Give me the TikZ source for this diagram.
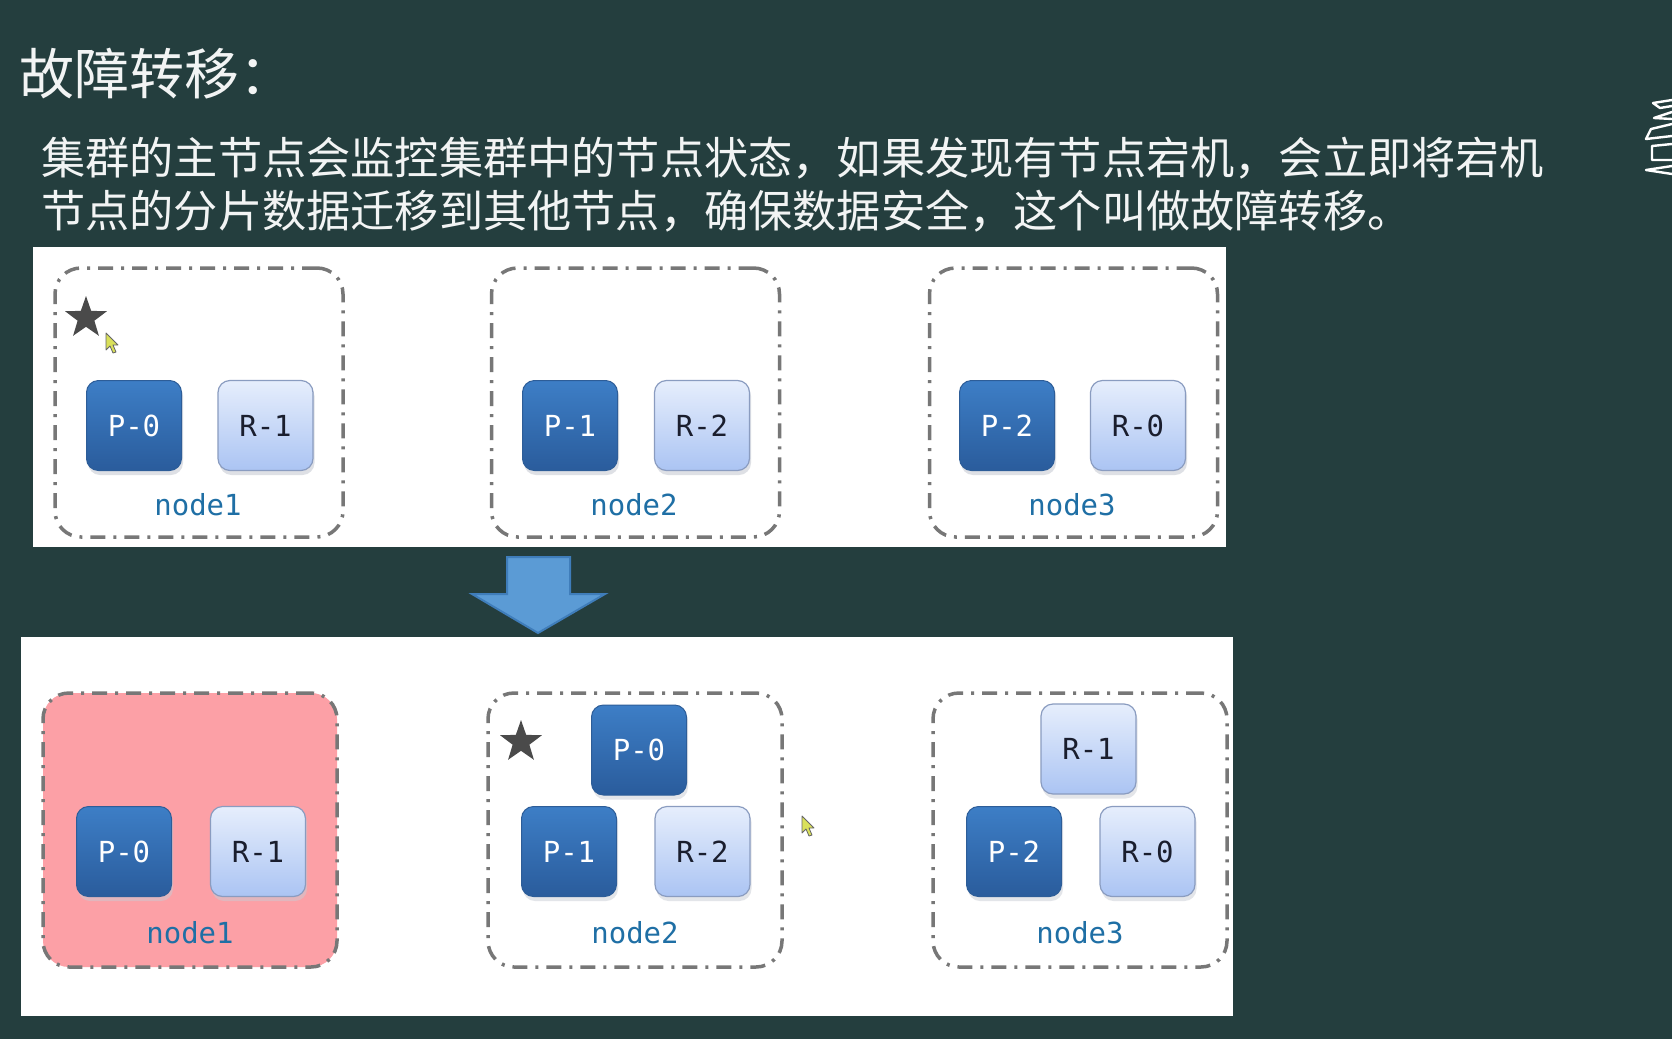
\documentclass[tikz,border=0pt]{standalone}
\usepackage{fontspec}
\newfontfamily\cjk{Noto Sans CJK SC}
\newfontfamily\mono{DejaVu Sans Mono}
\usetikzlibrary{shapes.geometric}
\definecolor{bg}{HTML}{243E3E}
\definecolor{txtwhite}{HTML}{F2F4F4}
\definecolor{boxgray}{HTML}{777777}
\definecolor{ptop}{HTML}{3D7EC6}
\definecolor{pbot}{HTML}{2A5C9C}
\definecolor{pedge}{HTML}{2D5D98}
\definecolor{rtop}{HTML}{E6EEFC}
\definecolor{rbot}{HTML}{ABC4F3}
\definecolor{redge}{HTML}{8A9CC0}
\definecolor{rtext}{HTML}{1A1E2E}
\definecolor{labblue}{HTML}{1F6FA5}
\definecolor{stargray}{HTML}{4A4A4A}
\definecolor{downpink}{HTML}{FCA0A6}
\definecolor{arrowfill}{HTML}{5B9BD5}
\definecolor{arrowedge}{HTML}{3F7DBA}
\definecolor{cursory}{HTML}{D9E05A}
\definecolor{shadowc}{HTML}{C8CCD4}
\begin{document}
\begin{tikzpicture}[x=0.5pt,y=-0.5pt,
  nodebox/.style={draw=boxgray, line width=1.75pt, dash pattern=on 7.5pt off 4pt on 1.5pt off 4pt, rounded corners=13pt, inner sep=0pt},
  topbox/.style={nodebox, minimum width=144pt, minimum height=134.5pt},
  botbox/.style={nodebox, minimum width=147pt, minimum height=137pt},
  shard/.style={rounded corners=6pt, minimum width=47.5pt, minimum height=45pt, inner sep=0pt, font=\mono\fontsize{14.5}{14.5}\selectfont},
  pshard/.style={shard, top color=ptop, bottom color=pbot, draw=pedge, line width=0.5pt, text=white},
  rshard/.style={shard, top color=rtop, bottom color=rbot, draw=redge, line width=0.6pt, text=rtext},
  lab/.style={font=\mono\fontsize{14.5}{14.5}\selectfont, text=labblue, inner sep=0pt},
  master/.style={star, star points=5, star point ratio=2.5, fill=stargray, minimum size=22pt, inner sep=0pt},
  cursor/.style={fill=cursory, draw=black!60, line width=0.4pt, line join=round}
]
% background
\fill[bg] (0,0) rectangle (1672,1039);
\useasboundingbox (0,0) rectangle (1672,1039);

% texts
\node[anchor=base west, inner sep=0pt, text=txtwhite, font=\cjk\fontsize{27.5}{30}\selectfont] (title) at (19,94) {故障转移：};
\node[anchor=base west, inner sep=0pt, text=txtwhite, font=\cjk\fontsize{22.1}{26}\selectfont] (line1) at (41,174) {集群的主节点会监控集群中的节点状态，如果发现有节点宕机，会立即将宕机};
\node[anchor=base west, inner sep=0pt, text=txtwhite, font=\cjk\fontsize{22.1}{26}\selectfont] (line2) at (41,227) {节点的分片数据迁移到其他节点，确保数据安全，这个叫做故障转移。};

% right-edge sketch glyph (partially cut off)
\draw[white, line width=1.2pt, line join=round] (1672,100) -- (1653,103) -- (1660,108) -- (1672,106);
\draw[white, line width=1.2pt, line join=round] (1672,112) -- (1654,118) -- (1672,119);
\draw[white, line width=1.2pt, line join=round] (1672,124) -- (1651,129) -- (1646,139) -- (1672,136);
\draw[white, line width=1.2pt, line join=round] (1672,144) -- (1652,146) -- (1652,160) -- (1672,160);
\draw[white, line width=1.2pt, line join=round] (1672,166) -- (1646,170) -- (1672,174);

% top panel
\fill[white] (33,247) rectangle (1226,547);
\node[topbox] (t1) at (199,402.5) {};
\node[topbox] (t2) at (635.5,402.5) {};
\node[topbox] (t3) at (1073.5,402.5) {};

% soft shadows under shards (top)
\foreach \cx in {134,265.5,570,702,1007,1138}
  \fill[shadowc, rounded corners=6pt, opacity=0.6] (\cx-46,384) rectangle (\cx+49,475);

\node[master] (tstar) at (86,318) {};
\node[pshard] (tp0) at (134,425.5) {P-0};
\node[rshard] (tr1) at (265.5,425.5) {R-1};
\node[lab] (tl1) at (198,505) {node1};

\node[pshard] (tp1) at (570,425.5) {P-1};
\node[rshard] (tr2) at (702,425.5) {R-2};
\node[lab] (tl2) at (634,505) {node2};

\node[pshard] (tp2) at (1007,425.5) {P-2};
\node[rshard] (tr0) at (1138,425.5) {R-0};
\node[lab] (tl3) at (1072,505) {node3};

% cursor in top panel
\path[cursor] (106,333) -- (106,350) -- (110,346) -- (113,353) -- (116,352) -- (113,345) -- (118,345) -- cycle;

% down arrow
\filldraw[fill=arrowfill, draw=arrowedge, line width=1pt, line join=miter]
  (507,557) -- (570,557) -- (570,594) -- (605,594) -- (538,633) -- (472,594) -- (507,594) -- cycle;

% bottom panel
\fill[white] (21,637) rectangle (1233,1016);
\node[botbox, fill=downpink] (b1) at (190,830) {};
\node[botbox] (b2) at (635,830) {};
\node[botbox] (b3) at (1080,830) {};

\foreach \cx/\cy in {124/851.5,258/851.5,639/750,569/851.5,702.5/851.5,1088.5/749,1014/851.5,1147.5/851.5}
  \fill[shadowc, rounded corners=6pt, opacity=0.5] (\cx-46,\cy-41.5) rectangle (\cx+49,\cy+49.5);

\node[pshard] (bp0) at (124,851.5) {P-0};
\node[rshard] (br1) at (258,851.5) {R-1};
\node[lab] (bl1) at (190,933) {node1};

\node[master] (bstar) at (521,742) {};
\node[pshard] (bp0n) at (639,750) {P-0};
\node[pshard] (bp1) at (569,851.5) {P-1};
\node[rshard] (br2) at (702.5,851.5) {R-2};
\node[lab] (bl2) at (635,933) {node2};

\node[rshard] (br1n) at (1088.5,749) {R-1};
\node[pshard] (bp2) at (1014,851.5) {P-2};
\node[rshard] (br0) at (1147.5,851.5) {R-0};
\node[lab] (bl3) at (1080,933) {node3};

% cursor in bottom panel
\path[cursor] (802,816) -- (802,833) -- (806,829) -- (809,836) -- (812,835) -- (809,828) -- (814,828) -- cycle;
\end{tikzpicture}
\end{document}
